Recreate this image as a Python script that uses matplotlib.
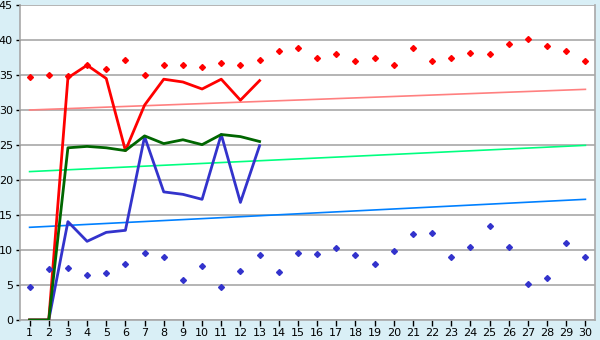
# -*- coding: utf-8 -*-

import numpy as np
import matplotlib.pyplot as plt

categories = list(range(1, 31))

red_points = [34.7, 34.95, 34.9, 36.4, 35.8, 37.1, 35.0, 36.4, 36.4, 36.1,
              36.7, 36.4, 37.2, 38.4, 38.8, 37.4, 37.95, 36.95, 37.5, 36.4,
              38.8, 36.95, 37.4, 38.1, 37.95, 39.4, 40.2, 39.1, 38.5, 36.95]
blue_points = [4.67, 7.24, 7.38, 6.38, 6.67, 7.95, 9.52, 8.95, 5.67, 7.67,
               4.67, 6.95, 9.24, 6.81, 9.52, 9.38, 10.24, 9.24, 7.95, 9.81,
               12.24, 12.38, 8.95, 10.38, 13.38, 10.38, 5.1, 5.95, 10.95, 8.95]

line_cats = list(range(1, 14))
red_line = [0, 0, 34.6, 36.4, 34.5, 24.2, 30.7, 34.4, 34.0, 33.0, 34.4, 31.4, 34.2]
green_line = [0, 0, 24.6, 24.8, 24.6, 24.2, 26.3, 25.2, 25.75, 25.05, 26.5, 26.2, 25.5]
blue_line = [0, 0, 14.05, 11.24, 12.52, 12.81, 26.2, 18.3, 17.95, 17.24, 26.5, 16.8, 24.9]

# trend lines: value at first and last category
trend_x = [1, 30]
pink_trend = [30.0, 32.95]
lime_trend = [21.2, 24.95]
sky_trend = [13.24, 17.24]

bg = '#d9eff6'
grid_c = '#a8a8a8'

fig = plt.figure(figsize=(6, 3.4), dpi=100, facecolor=bg)
ax = fig.add_axes([20 / 600, 20 / 340, 575 / 600, 315 / 340])
ax.set_facecolor('white')

ax.plot(trend_x, pink_trend, color='#ff8080', lw=1.2, zorder=2)
ax.plot(trend_x, lime_trend, color='#00ff80', lw=1.2, zorder=2)
ax.plot(trend_x, sky_trend, color='#0080ff', lw=1.2, zorder=2)

ax.plot(line_cats, blue_line, color='#3333cc', lw=2, zorder=3)
ax.plot(line_cats, red_line, color='#ff0000', lw=2, zorder=4)
ax.plot(line_cats, green_line, color='#006600', lw=2, zorder=5)

ax.plot(categories, red_points, ls='none', marker='D', ms=3, color='#ff0000', zorder=6)
ax.plot(categories, blue_points, ls='none', marker='D', ms=3, color='#3333cc', zorder=6)

ax.set_xlim(0.5, 30.5)
ax.set_ylim(0, 45)
ax.set_xticks(categories)
ax.set_yticks(np.arange(0, 46, 5))
ax.grid(axis='y', color=grid_c, lw=1.2, zorder=1)
ax.set_axisbelow(True)
for s in ax.spines.values():
    s.set_color(grid_c)
    s.set_linewidth(1.2)
ax.spines['top'].set_visible(False)
ax.tick_params(axis='both', labelsize=8, length=4, width=1, pad=2,
               labelcolor='black', color='black')
ax.tick_params(axis='y', length=3)

fig.savefig('out.png', dpi=100, facecolor=bg)
